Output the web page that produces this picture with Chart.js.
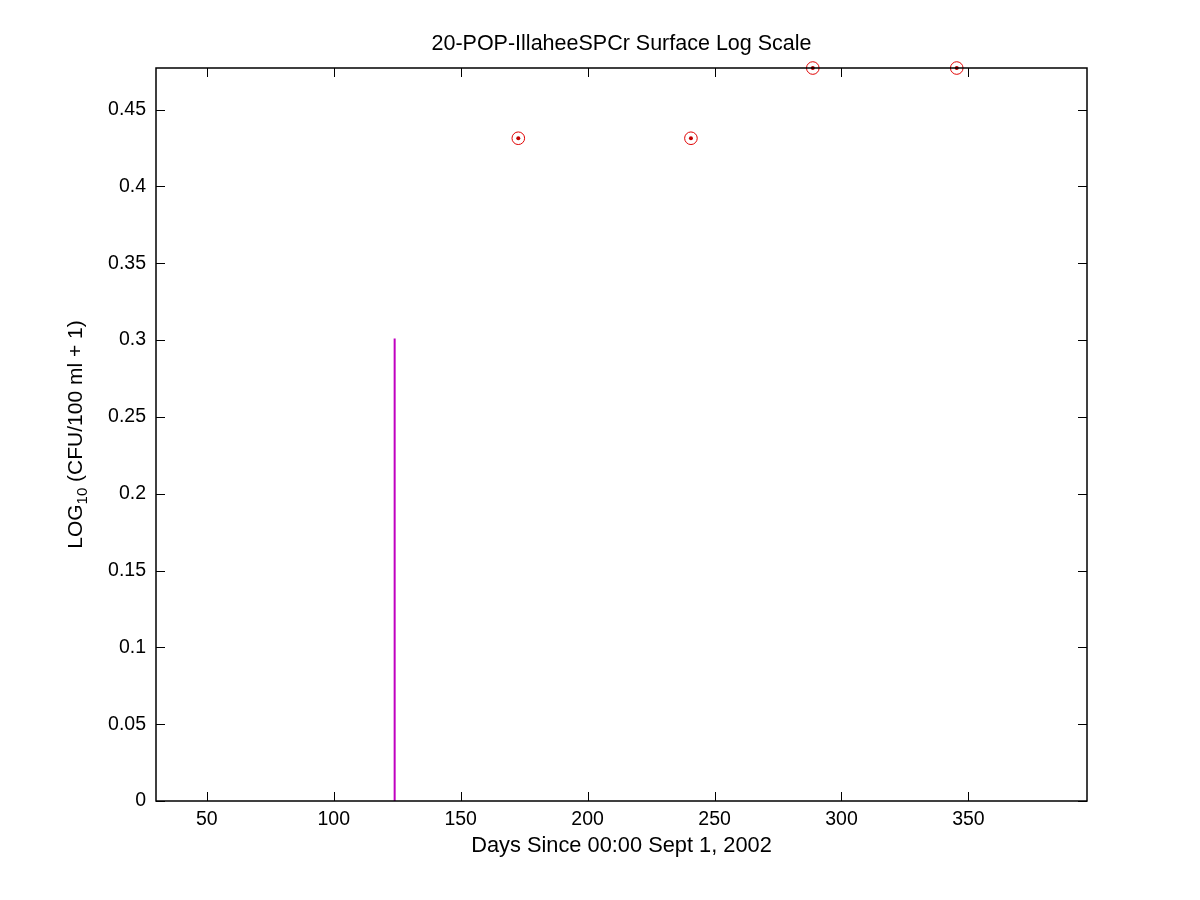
<!DOCTYPE html>
<html>
<head>
<meta charset="utf-8">
<script src="https://cdn.jsdelivr.net/npm/chart.js@4.4.1/dist/chart.umd.min.js"></script>
<style>
  html, body { margin: 0; padding: 0; background: #fff; }
  #wrap { width: 1200px; height: 900px; }
</style>
</head>
<body>
<div id="wrap"><canvas id="myChart" width="1200" height="900"></canvas></div>
<script>
"use strict";

////// data
const sampleDays = [172.7, 240.7, 288.7, 345.4];
const sampleLog = [0.4314, 0.4314, 0.4771, 0.4771];
const stemDays = [124, 124];
const stemLog = [0, 0.301];
const xTicks = [50, 100, 150, 200, 250, 300, 350];
const yTicks = [0, 0.05, 0.1, 0.15, 0.2, 0.25, 0.3, 0.35, 0.4, 0.45];

const titleText = "20-POP-IllaheeSPCr Surface Log Scale";
const xLabel = "Days Since 00:00 Sept 1, 2002";

const FONT = "'Liberation Sans', Arial, Helvetica, sans-serif";

const toPoints = (xs, ys) => xs.map((x, i) => ({ x: x, y: ys[i] }));

////// box, inner ticks, title and axis labels (matlab style)
const matlabFrame = {
  id: "matlabFrame",
  afterDraw(chart) {
    const c = chart.ctx;
    const a = chart.chartArea;
    const xs = chart.scales.x;
    const ys = chart.scales.y;
    const tl = 9;
    c.save();
    c.strokeStyle = "#000";
    c.lineWidth = 1;
    c.beginPath();
    xTicks.forEach((t) => {
      const px = Math.round(xs.getPixelForValue(t)) + 0.5;
      c.moveTo(px, a.bottom);
      c.lineTo(px, a.bottom - tl);
      c.moveTo(px, a.top);
      c.lineTo(px, a.top + tl);
    });
    yTicks.forEach((t) => {
      const py = Math.round(ys.getPixelForValue(t)) + 0.5;
      c.moveTo(a.left, py);
      c.lineTo(a.left + tl, py);
      c.moveTo(a.right, py);
      c.lineTo(a.right - tl, py);
    });
    c.stroke();
    c.lineWidth = 1.5;
    c.strokeRect(a.left, a.top, a.right - a.left, a.bottom - a.top);

    c.fillStyle = "#000";
    c.textAlign = "center";
    c.textBaseline = "middle";
    c.font = "21.5px " + FONT;
    c.fillText(titleText, (a.left + a.right) / 2, 44);
    c.font = "21.8px " + FONT;
    c.fillText(xLabel, (a.left + a.right) / 2, 846);

    // y label with subscript 10
    c.translate(76, (a.top + a.bottom) / 2);
    c.rotate(-Math.PI / 2);
    const partA = "LOG";
    const partB = "10";
    const partC = " (CFU/100 ml + 1)";
    c.font = "21px " + FONT;
    const wA = c.measureText(partA).width;
    const wC = c.measureText(partC).width;
    c.font = "15px " + FONT;
    const wB = c.measureText(partB).width;
    let x0 = -(wA + wB + wC) / 2;
    c.textAlign = "left";
    c.font = "21px " + FONT;
    c.fillText(partA, x0, 0);
    c.font = "15px " + FONT;
    c.fillText(partB, x0 + wA, 7);
    c.font = "21px " + FONT;
    c.fillText(partC, x0 + wA + wB, 0);
    c.restore();
  },
};

const ctx = document.getElementById("myChart");

new Chart(ctx, {
  type: "scatter",
  data: {
    datasets: [
      {
        label: "stem",
        type: "line",
        data: toPoints(stemDays, stemLog),
        borderColor: "#c000c0",
        borderWidth: 2,
        pointRadius: 0,
        fill: false,
      },
      {
        label: "samples",
        data: toPoints(sampleDays, sampleLog),
        pointStyle: "circle",
        pointRadius: 6.3,
        borderColor: "#e00000",
        borderWidth: 1,
        backgroundColor: "rgba(0,0,0,0)",
        clip: false,
      },
      {
        label: "samplesDot",
        data: toPoints(sampleDays, sampleLog),
        pointStyle: "circle",
        pointRadius: 2,
        borderWidth: 0,
        backgroundColor: "#c00000",
        clip: false,
      },
    ],
  },
  options: {
    responsive: false,
    animation: false,
    layout: { padding: { top: 68, right: 113, left: 0, bottom: 0 } },
    plugins: {
      legend: { display: false },
      tooltip: { enabled: false },
      title: { display: false },
    },
    scales: {
      x: {
        type: "linear",
        min: 30,
        max: 396.7,
        afterBuildTicks: (s) => {
          s.ticks = xTicks.map((v) => ({ value: v }));
        },
        afterFit: (s) => {
          s.height = 99;
        },
        grid: { drawOnChartArea: false, drawTicks: false },
        border: { display: false },
        ticks: {
          color: "#000",
          padding: 7,
          font: { family: FONT, size: 19.5 },
          maxRotation: 0,
        },
      },
      y: {
        type: "linear",
        min: 0,
        max: 0.47712,
        afterBuildTicks: (s) => {
          s.ticks = yTicks.map((v) => ({ value: v }));
        },
        afterFit: (s) => {
          s.width = 156;
        },
        grid: { drawOnChartArea: false, drawTicks: false },
        border: { display: false },
        ticks: {
          color: "#000",
          padding: 10,
          font: { family: FONT, size: 19.5 },
          callback: (v) => String(Number(Number(v).toFixed(2))),
        },
      },
    },
  },
  plugins: [matlabFrame],
});
</script>
</body>
</html>
